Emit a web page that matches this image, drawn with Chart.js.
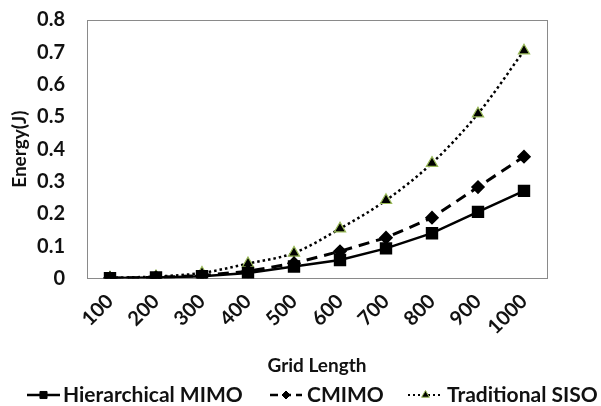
<!DOCTYPE html>
<html><head><meta charset="utf-8">
<script src="https://cdn.jsdelivr.net/npm/chart.js@4/dist/chart.umd.min.js"></script>
<style>html,body{margin:0;padding:0;background:#fff}#wrap{width:601px;height:406px}</style>
</head><body><div id="wrap"><canvas id="c" width="601" height="406"></canvas></div>
<script>
const categories = ['100','200','300','400','500','600','700','800','900','1000'];
const hierarchicalMIMO = [0.001,0.003,0.007,0.017,0.037,0.057,0.093,0.14,0.206,0.271];
const cmimo = [0.001,0.003,0.009,0.022,0.047,0.084,0.126,0.188,0.283,0.377];
const traditionalSISO = [0.002,0.006,0.017,0.046,0.079,0.154,0.242,0.357,0.51,0.705];
const yTicks = [0,0.1,0.2,0.3,0.4,0.5,0.6,0.7,0.8];
const seriesNames = ['Hierarchical MIMO','CMIMO','Traditional SISO'];

const FONT = 'Lato, "Open Sans", sans-serif';

const frame = {
  id:'frame',
  beforeDatasetsDraw(chart){
    const a = chart.chartArea, ctx = chart.ctx;
    ctx.save(); ctx.strokeStyle='#8a8a8a'; ctx.lineWidth=1;
    ctx.strokeRect(Math.round(a.left)+0.5, Math.round(a.top)+0.5, Math.round(a.right-a.left), Math.round(a.bottom-a.top));
    ctx.restore();
  }
};

const legendPlugin = {
  id:'customLegend',
  afterDraw(chart){
    const ctx = chart.ctx;
    const items = [{x:27,w:33,tx:63,lw:2.5,r:5},{x:270,w:32,tx:307,lw:2.5,r:4},{x:408,w:35,tx:447,lw:2,r:4.5}];
    const y = 395;
    ctx.save();
    chart.data.datasets.forEach((ds,i)=>{
      const it = items[i];
      ctx.strokeStyle = ds.borderColor; ctx.lineWidth = it.lw;
      ctx.setLineDash(i===1?[8,5]:(i===2?[2,3]:[]));
      ctx.beginPath(); ctx.moveTo(it.x,y); ctx.lineTo(it.x+it.w,y); ctx.stroke();
      ctx.setLineDash([]);
      ctx.fillStyle = ds.pointBackgroundColor; ctx.strokeStyle = ds.pointBorderColor; ctx.lineWidth=1;
      Chart.helpers.drawPoint(ctx,{pointStyle:ds.pointStyle,radius:it.r,borderWidth:1},it.x+it.w/2,y);
      ctx.fillStyle='#111'; ctx.font='bold 21px '+FONT; ctx.textBaseline='middle'; ctx.textAlign='left';
      ctx.fillText(seriesNames[i], it.tx, y);
    });
    ctx.restore();
  }
};

new Chart(document.getElementById('c'),{
  type:'line',
  data:{labels:categories,datasets:[
    {label:seriesNames[0],data:hierarchicalMIMO,borderColor:'#000',borderWidth:2.5,pointStyle:'rect',pointRadius:7,
     pointBackgroundColor:'#000',pointBorderColor:'#000',tension:0},
    {label:seriesNames[1],data:cmimo,borderColor:'#000',borderWidth:3,borderDash:[11,7],pointStyle:'rectRot',pointRadius:5,
     pointBackgroundColor:'#000',pointBorderColor:'#000',tension:0},
    {label:seriesNames[2],data:traditionalSISO,borderColor:'#000',borderWidth:2.5,borderDash:[2.5,3],pointStyle:'triangle',pointRadius:6.5,
     pointBackgroundColor:'#000',pointBorderColor:'#9bbb59',pointBorderWidth:1.2,cubicInterpolationMode:'monotone'}
  ]},
  options:{
    responsive:false,animation:false,
    layout:{autoPadding:false,padding:{left:8,right:54,top:20,bottom:29}},
    plugins:{legend:{display:false},tooltip:{enabled:false}},
    scales:{
      x:{offset:true,grid:{display:false,drawTicks:false},border:{display:false},
         ticks:{color:'#111',font:{family:FONT,size:20,weight:'bold'},minRotation:45,maxRotation:45,padding:11},
         title:{display:true,text:'Grid Length',color:'#111',font:{family:FONT,size:19,weight:'bold'},padding:{top:4,bottom:0}}},
      y:{min:0,max:0.8,grid:{display:false,drawTicks:false},border:{display:false},
         afterBuildTicks(s){s.ticks=yTicks.map(v=>({value:v}));},
         afterFit(s){s.width=79; s.paddingTop=0; s.paddingBottom=0;},
         ticks:{color:'#111',font:{family:FONT,size:20,weight:'bold'},padding:22,callback:v=>String(v)},
         title:{display:true,text:'Energy(J)',color:'#111',font:{family:FONT,size:19,weight:'bold'},padding:{top:0,bottom:0}}}
    }
  },
  plugins:[frame,legendPlugin]
});
</script></body></html>
